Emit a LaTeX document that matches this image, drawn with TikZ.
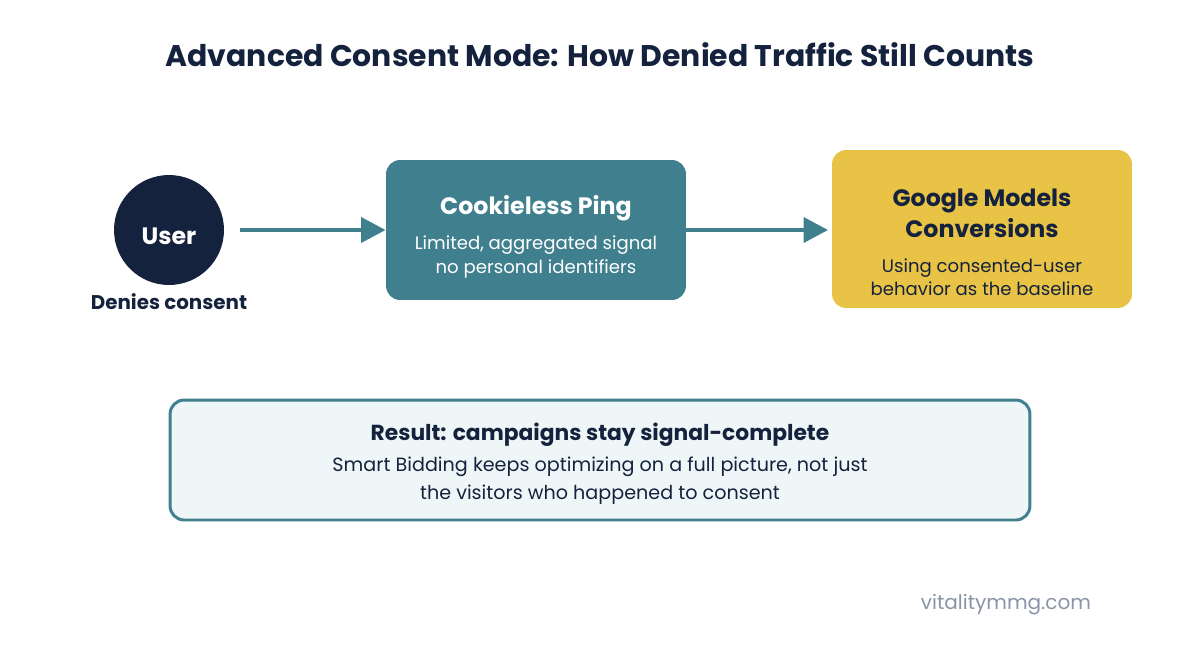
\documentclass[tikz,border=0pt]{standalone}
\usepackage{fontspec}
\setmainfont{Poppins}
\usepackage{xcolor}
\usetikzlibrary{positioning, arrows.meta}
\definecolor{NavyDark}{HTML}{15223D}
\definecolor{TealMain}{HTML}{40808E}
\definecolor{GoldBox}{HTML}{E9C345}
\definecolor{PaleTeal}{HTML}{EEF6F7}
\definecolor{GreyNote}{HTML}{8A94A6}
\newcommand{\boxhead}{\fontsize{13.5}{17}\selectfont\bfseries}
\newcommand{\boxsub}{\fontsize{10.3}{14}\selectfont}
\newcommand{\resulthead}{\fontsize{12.4}{15}\selectfont\bfseries}
\newcommand{\resultsub}{\fontsize{10.9}{15.3}\selectfont}

\begin{document}
\begin{tikzpicture}[
  x=0.02cm, y=-0.02cm,
  flowarr/.style={-{Triangle[length=14pt, width=14pt]}, line width=2.8pt, color=TealMain},
  stepbox/.style={rounded corners=8pt, inner sep=0pt, minimum width=6cm},
  boxtext/.style={align=center, inner sep=0pt},
]
  \useasboundingbox (0,0) rectangle (1200,650);

% ===== Title =====
  \node[text=NavyDark, font=\fontsize{17}{20}\selectfont\bfseries]
    (title) at (600,55) {Advanced Consent Mode: How Denied Traffic Still Counts};

% ===== Flow : user -> ping -> models =====
  \node[circle, fill=NavyDark, minimum size=2.2cm, inner sep=0pt] (user) at (169,230) {};
  \node[boxtext, text=white, font=\boxhead] (usertxt) at ([yshift=-0.12cm]user.center) {User};
  \node[text=NavyDark, font=\fontsize{11.3}{14}\selectfont\bfseries]
    (denies) at (169,302) {Denies consent};

  \node[stepbox, fill=TealMain, minimum height=2.8cm] (ping) at (536,230) {};
  \node[boxtext, text=white] (pingtxt) at ([yshift=-0.14cm]ping.center)
    {\boxhead Cookieless Ping\\[7.5pt]
     \boxsub Limited, aggregated signal\\[1.7pt]\boxsub no personal identifiers};

  \node[stepbox, fill=GoldBox, minimum height=3.16cm] (models) at (982,229) {};
  \node[boxtext, text=NavyDark] (modelstxt) at ([yshift=-0.27cm]models.center)
    {\boxhead Google Models\\[2.3pt]\boxhead Conversions\\[7.8pt]
     \boxsub Using consented-user\\[1.1pt]\boxsub behavior as the baseline};

  \draw[flowarr] ([xshift=0.32cm]user.east) -- (ping.west);
  \draw[flowarr] (ping.east) -- ([xshift=-2pt]models.west |- ping.east);

% ===== Result =====
  \node[stepbox, draw=TealMain, line width=1.7pt, fill=PaleTeal, minimum width=17.2cm,
        minimum height=2.4cm] (result) at (600,460) {};
  \node[boxtext, text=NavyDark] (resulttxt) at ([yshift=-0.07cm]result.center)
    {\resulthead Result: campaigns stay signal-complete\\[5.5pt]
     \resultsub Smart Bidding keeps optimizing on a full picture, not just\\[4pt]
     \resultsub the visitors who happened to consent};

  \node[text=GreyNote, font=\fontsize{11.4}{14}\selectfont]
    (site) at (1006,605) {vitalitymmg.com};

\end{tikzpicture}
\end{document}
